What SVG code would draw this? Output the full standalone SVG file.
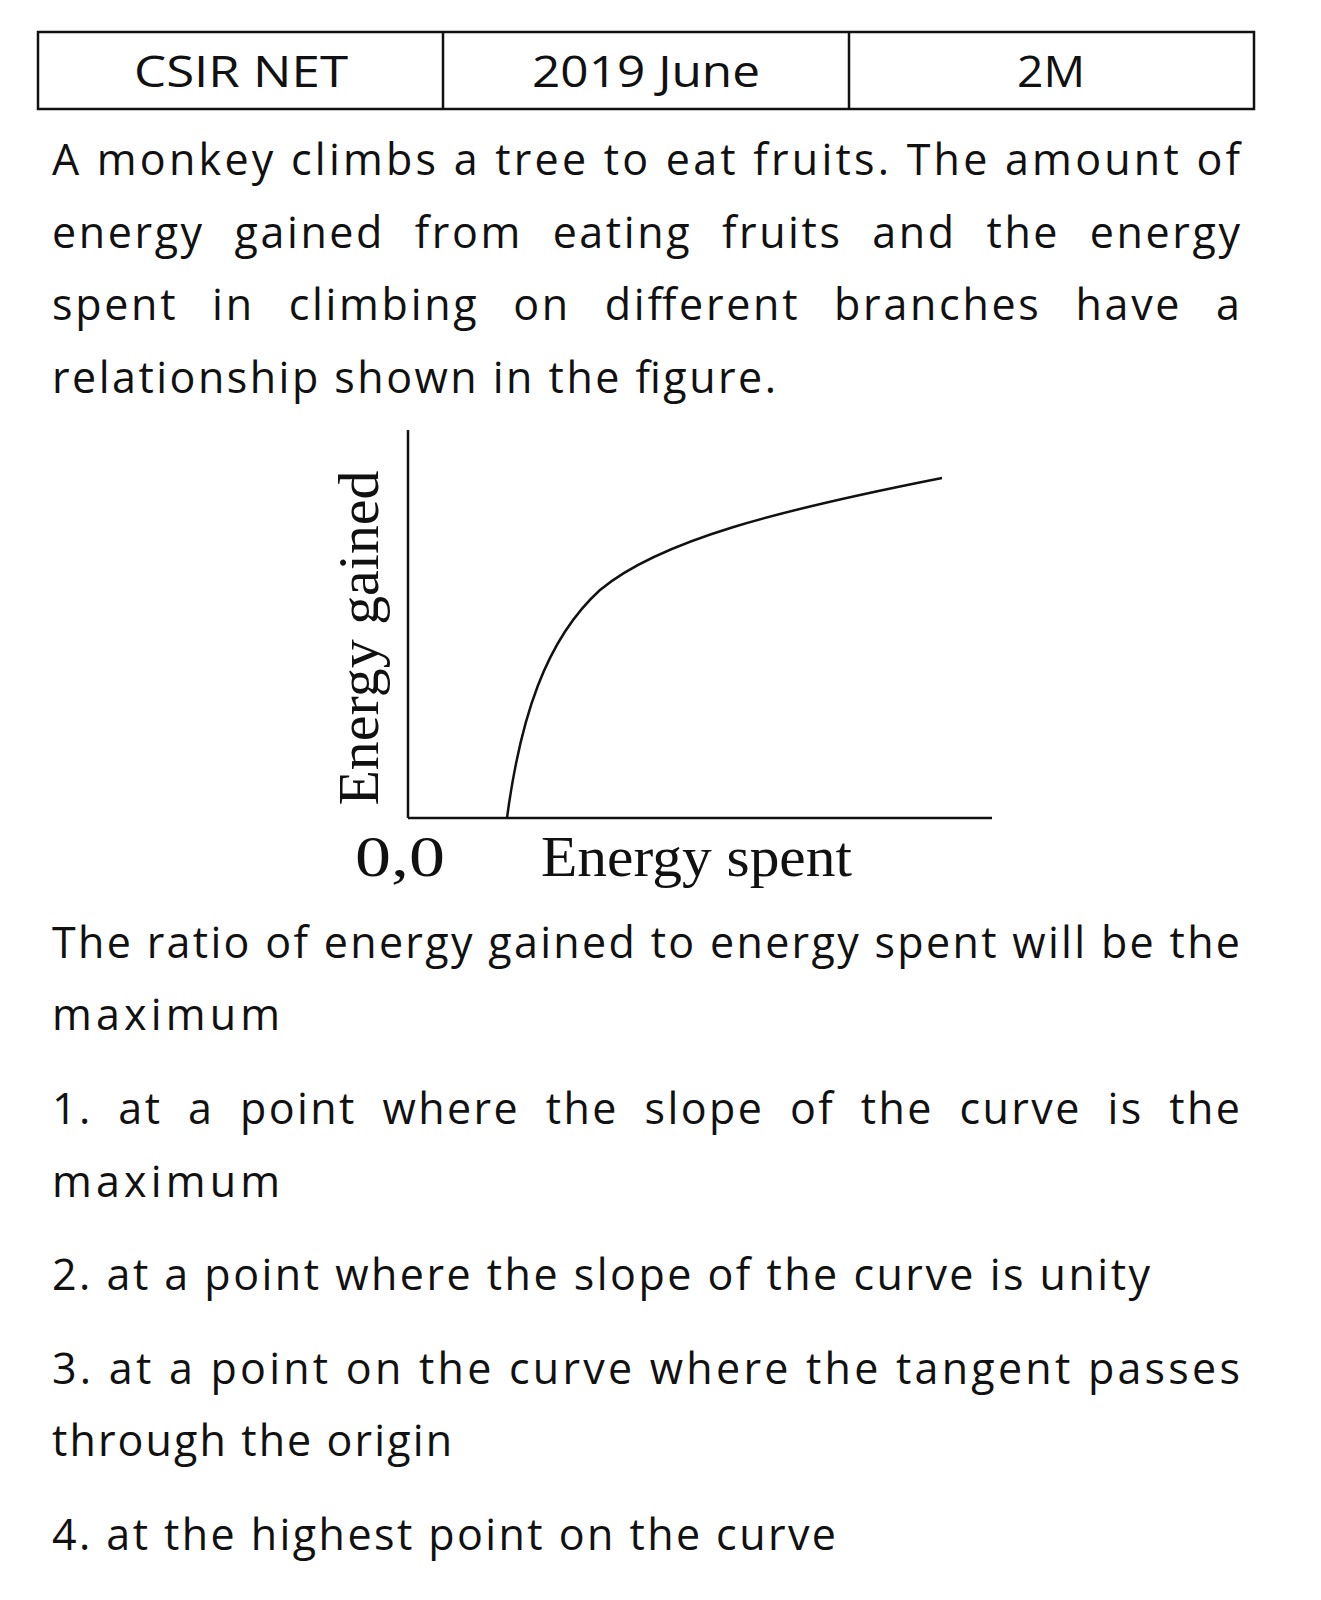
<svg xmlns="http://www.w3.org/2000/svg" width="1321" height="1600" viewBox="0 0 1321 1600">
<style>
.t{font-family:"Open Sans","Liberation Sans",sans-serif;font-size:43px;fill:#111}
.c{text-anchor:middle}
.s{font-family:"Liberation Serif",serif;font-size:57px;fill:#111}
.ln{stroke:#111;stroke-width:2.5;fill:none}
</style>
<rect width="1321" height="1600" fill="#fff"/>
<g id="header">
<rect x="38" y="32" width="1216" height="77" class="ln" stroke-width="2"/>
<line x1="443" y1="32" x2="443" y2="109" class="ln" stroke-width="2"/>
<line x1="849" y1="32" x2="849" y2="109" class="ln" stroke-width="2"/>
<text class="t" x="134" y="87" textLength="214" lengthAdjust="spacingAndGlyphs">CSIR NET</text>
<text class="t" x="532" y="87" textLength="228" lengthAdjust="spacingAndGlyphs">2019 June</text>
<text class="t" x="1017" y="87" textLength="68" lengthAdjust="spacingAndGlyphs">2M</text>
</g>
<g id="question">
<text class="t" x="52" y="175" textLength="1188" lengthAdjust="spacing">A monkey climbs a tree to eat fruits. The amount of</text>
<text class="t" x="52" y="248" textLength="1188" lengthAdjust="spacing" word-spacing="16">energy gained from eating fruits and the energy</text>
<text class="t" x="52" y="320" textLength="1188" lengthAdjust="spacing" word-spacing="20">spent in climbing on different branches have a</text>
<text class="t" x="52" y="393" textLength="724" lengthAdjust="spacing">relationship shown in the figure.</text>
</g>
<g id="graph">
<line x1="408" y1="430" x2="408" y2="818" class="ln"/>
<line x1="408" y1="818" x2="992" y2="818" class="ln"/>
<path d="M507,818 C520,720 545,640 600,590 C660,540 780,510 942,478" class="ln" stroke-width="2"/>
<text class="s" transform="translate(378,638) rotate(-90)" text-anchor="middle" textLength="335" lengthAdjust="spacingAndGlyphs">Energy gained</text>
<text class="s" x="355" y="876" textLength="90" lengthAdjust="spacingAndGlyphs">0,0</text>
<text class="s" x="541" y="876" textLength="311" lengthAdjust="spacingAndGlyphs">Energy spent</text>
</g>
<g id="options">
<text class="t" x="52" y="958" textLength="1188" lengthAdjust="spacing">The ratio of energy gained to energy spent will be the</text>
<text class="t" x="52" y="1030" textLength="228" lengthAdjust="spacing">maximum</text>
<text class="t" x="52" y="1124" textLength="1188" lengthAdjust="spacing" word-spacing="12">1. at a point where the slope of the curve is the</text>
<text class="t" x="52" y="1197" textLength="228" lengthAdjust="spacing">maximum</text>
<text class="t" x="52" y="1290" textLength="1098" lengthAdjust="spacing">2. at a point where the slope of the curve is unity</text>
<text class="t" x="52" y="1384" textLength="1188" lengthAdjust="spacing">3. at a point on the curve where the tangent passes</text>
<text class="t" x="52" y="1456" textLength="400" lengthAdjust="spacing">through the origin</text>
<text class="t" x="52" y="1550" textLength="784" lengthAdjust="spacing">4. at the highest point on the curve</text>
</g>
</svg>
